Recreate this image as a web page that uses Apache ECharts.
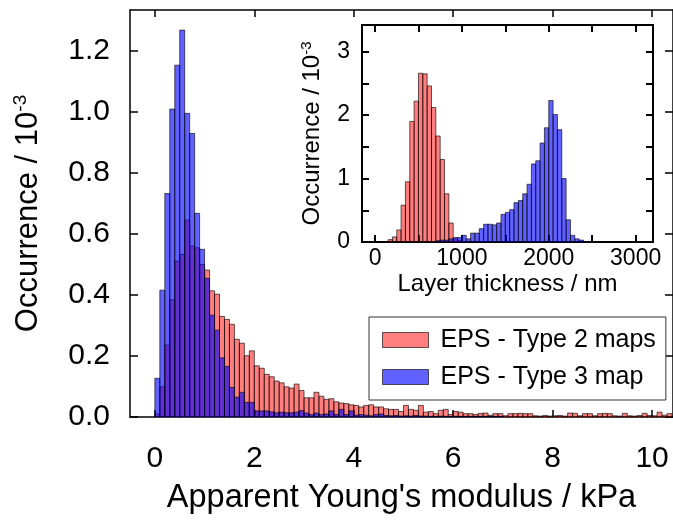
<!DOCTYPE html>
<html>
<head>
<meta charset="utf-8">
<script src="https://cdn.jsdelivr.net/npm/echarts@6/dist/echarts.min.js"></script>
<style>html,body{margin:0;padding:0;background:#fff}#chart{width:673px;height:521px}</style>
</head>
<body>
<div id="chart"></div>
<script>
// ---------- data ----------
const seriesNames = ['EPS - Type 2 maps', 'EPS - Type 3 map'];

// main histogram: Apparent Young's modulus, bins of 0.1 kPa starting at 0
const mainBinWidth = 0.1;
const mainType2 = [
  0.010,0.099,0.236,0.384,0.511,0.533,0.646,0.561,0.555,0.500,
  0.482,0.414,0.403,0.330,0.320,0.304,0.255,0.242,0.201,0.217,
  0.168,0.160,0.140,0.132,0.118,0.112,0.099,0.095,0.108,0.087,
  0.063,0.063,0.081,0.068,0.058,0.060,0.050,0.046,0.044,0.040,
  0.038,0.033,0.038,0.040,0.033,0.033,0.027,0.025,0.025,0.018,
  0.038,0.025,0.022,0.038,0.016,0.018,0.011,0.022,0.025,0.008,
  0.018,0.016,0.011,0.011,0.008,0.012,0.013,0.006,0.011,0.011,
  0.004,0.011,0.011,0.012,0.011,0.011,0.004,0.003,0.005,0.003,
  0.004,0.005,0.003,0.013,0.012,0.004,0.011,0.011,0.004,0.011,
  0.012,0.011,0.004,0.003,0.012,0.004,0.003,0.005,0.012,0.005,
  0.004,0.016,0.006,0.011
];
const mainType3 = [
  0.127,0.416,0.733,1.010,1.154,1.269,0.996,0.930,0.668,0.550,
  0.455,0.334,0.285,0.194,0.166,0.097,0.065,0.081,0.048,0.048,
  0.020,0.020,0.020,0.017,0.014,0.016,0.014,0.014,0.016,0.021,
  0.013,0.008,0.013,0.008,0.010,0.020,0.008,0.025,0.008,0.020,
  0.006,0.008,0.006,0.004,0.008,0.010,0.005,0.004,0.005,0.003,
  0.004,0.003,0.005,0.003,0.003,0.002,0.002,0.003,0.002,0.002,
  0.002,0.002,0.002,0.002,0.002,0.002,0.002,0.002,0.002,0.002
];

// inset histogram: Layer thickness, bins of 50 nm starting at 0
const insetBinWidth = 50;
const insetType2 = [
  0,0,0,0.037,0.08,0.19,0.58,0.95,1.90,2.22,
  2.66,2.65,2.46,2.12,1.67,1.30,0.76,0.30,0.05,0.03
];
const insetType3 = [
  0,0,0,0,0,0,0,0,0,0,
  0,0,0,0,0.02,0.03,0.03,0.05,0.07,0.07,
  0.105,0.05,0.14,0.14,0.21,0.28,0.28,0.27,0.30,0.435,
  0.467,0.51,0.62,0.655,0.76,0.91,1.23,1.28,1.56,1.80,
  2.23,2.01,1.77,1.00,0.35,0.105,0.05,0.03
];

// ticks
const mainXTicks = [0, 2, 4, 6, 8, 10];
const mainYTicks = [0, 0.2, 0.4, 0.6, 0.8, 1.0, 1.2];
const insetXTicks = [0, 500, 1000, 1500, 2000, 2500, 3000];
const insetXLabels = [0, 1000, 2000, 3000];
const insetYTicks = [0, 0.5, 1, 1.5, 2, 2.5, 3];
const insetYLabels = [0, 1, 2, 3];

// ---------- chart ----------
const FONT = "'Liberation Sans', Arial, Helvetica, sans-serif";
const RED = 'rgba(255,0,0,0.5)';
const BLUE = 'rgba(0,0,255,0.62)';
const EDGE = 'rgba(0,0,0,0.62)';

function toBins(values, w) {
  return values.map((v, i) => [i * w, (i + 1) * w, v]);
}
function histRender(fill) {
  return function (params, api) {
    const a = api.coord([api.value(0), api.value(2)]);
    const b = api.coord([api.value(1), 0]);
    return {
      type: 'rect',
      shape: { x: a[0], y: a[1], width: b[0] - a[0], height: b[1] - a[1] },
      style: { fill: fill, stroke: EDGE, lineWidth: 1 }
    };
  };
}
function histSeries(name, values, w, fill, axisIndex) {
  return {
    type: 'custom', name: name, xAxisIndex: axisIndex, yAxisIndex: axisIndex,
    renderItem: histRender(fill), clip: true,
    itemStyle: { color: fill, borderColor: EDGE, borderWidth: 1 },
    encode: { x: [0, 1], y: 2 },
    data: toBins(values, w)
  };
}
function axisBase(gridIndex, pos, min, max, ticks, labels, lw, tickLen, labelOpts) {
  return {
    gridIndex: gridIndex, type: 'value', position: pos, min: min, max: max,
    axisLine: { show: true, onZero: false, lineStyle: { color: '#000', width: lw } },
    axisTick: { show: true, inside: true, length: tickLen, customValues: ticks,
                lineStyle: { color: '#000', width: lw } },
    splitLine: { show: false },
    axisLabel: labels ? Object.assign({ customValues: labels, color: '#000', fontFamily: FONT }, labelOpts)
                      : { show: false }
  };
}
function supName(size, supSize, raise) {
  return {
    name: '{a|Occurrence / 10}{b|-3}',
    nameTextStyle: {
      rich: {
        a: { fontSize: size, fontFamily: FONT, color: '#000' },
        b: { fontSize: supSize, fontFamily: FONT, color: '#000', padding: [0, 0, raise, 0] }
      }
    }
  };
}

const xMainBottom = axisBase(0, 'bottom', -0.5, 10.42, mainXTicks, mainXTicks, 1.5, 7,
  { fontSize: 30, margin: 27, formatter: v => String(v) });
Object.assign(xMainBottom, {
  name: "Apparent Young's modulus / kPa", nameLocation: 'middle', nameGap: 65,
  nameTextStyle: { fontSize: 32.5, fontFamily: FONT, color: '#000' }
});
const xMainTop = axisBase(0, 'top', -0.5, 10.42, mainXTicks, null, 1.5, 7);

const yMainLeft = axisBase(0, 'left', 0, 1.335, mainYTicks, mainYTicks, 1.5, 8,
  { fontSize: 30, margin: 20, formatter: v => v.toFixed(1) });
Object.assign(yMainLeft, supName(31, 19, 16), { nameLocation: 'middle', nameGap: 84, nameRotate: 90 });
const yMainRight = axisBase(0, 'right', 0, 1.335, mainYTicks, null, 1.5, 8);

const xInsetBottom = axisBase(1, 'bottom', -150, 3200, insetXTicks, insetXLabels, 2, 7,
  { fontSize: 23, margin: 5, formatter: v => String(v) });
Object.assign(xInsetBottom, {
  name: 'Layer thickness / nm', nameLocation: 'middle', nameGap: 30,
  nameTextStyle: { fontSize: 24, fontFamily: FONT, color: '#000' }
});
const xInsetTop = axisBase(1, 'top', -150, 3200, insetXTicks, null, 2, 7);
const yInsetLeft = axisBase(1, 'left', 0, 3.42, insetYTicks, insetYLabels, 2, 7,
  { fontSize: 23, margin: 12, formatter: v => String(v) });
Object.assign(yInsetLeft, supName(24, 15, 12), { nameLocation: 'middle', nameGap: 36, nameRotate: 90 });
const yInsetRight = axisBase(1, 'right', 0, 3.42, insetYTicks, null, 2, 7);

const option = {
  animation: false,
  backgroundColor: '#fff',
  grid: [
    { left: 130, top: 10, width: 546, height: 407 },
    { left: 362, top: 25, width: 291, height: 217 }
  ],
  xAxis: [xMainBottom, xMainTop, xInsetBottom, xInsetTop],
  yAxis: [yMainLeft, yMainRight, yInsetLeft, yInsetRight],
  legend: {
    orient: 'vertical', left: 369, top: 317,
    padding: [9, 10, 9, 13], itemGap: 9, itemWidth: 46, itemHeight: 15,
    backgroundColor: '#fff', borderColor: '#333', borderWidth: 1,
    selectedMode: false,
    textStyle: { fontSize: 25, fontFamily: FONT, color: '#000', lineHeight: 28, padding: [0, 0, 0, 7] },
    data: [
      { name: seriesNames[0], icon: 'rect', itemStyle: { color: RED, borderColor: EDGE, borderWidth: 1 } },
      { name: seriesNames[1], icon: 'rect', itemStyle: { color: BLUE, borderColor: EDGE, borderWidth: 1 } }
    ]
  },
  series: [
    histSeries(seriesNames[0], mainType2, mainBinWidth, RED, 0),
    histSeries(seriesNames[1], mainType3, mainBinWidth, BLUE, 0),
    histSeries(seriesNames[0], insetType2, insetBinWidth, RED, 2),
    histSeries(seriesNames[1], insetType3, insetBinWidth, BLUE, 2)
  ]
};

const chart = echarts.init(document.getElementById('chart'), null, { renderer: 'canvas' });
chart.setOption(option);
</script>
</body>
</html>
